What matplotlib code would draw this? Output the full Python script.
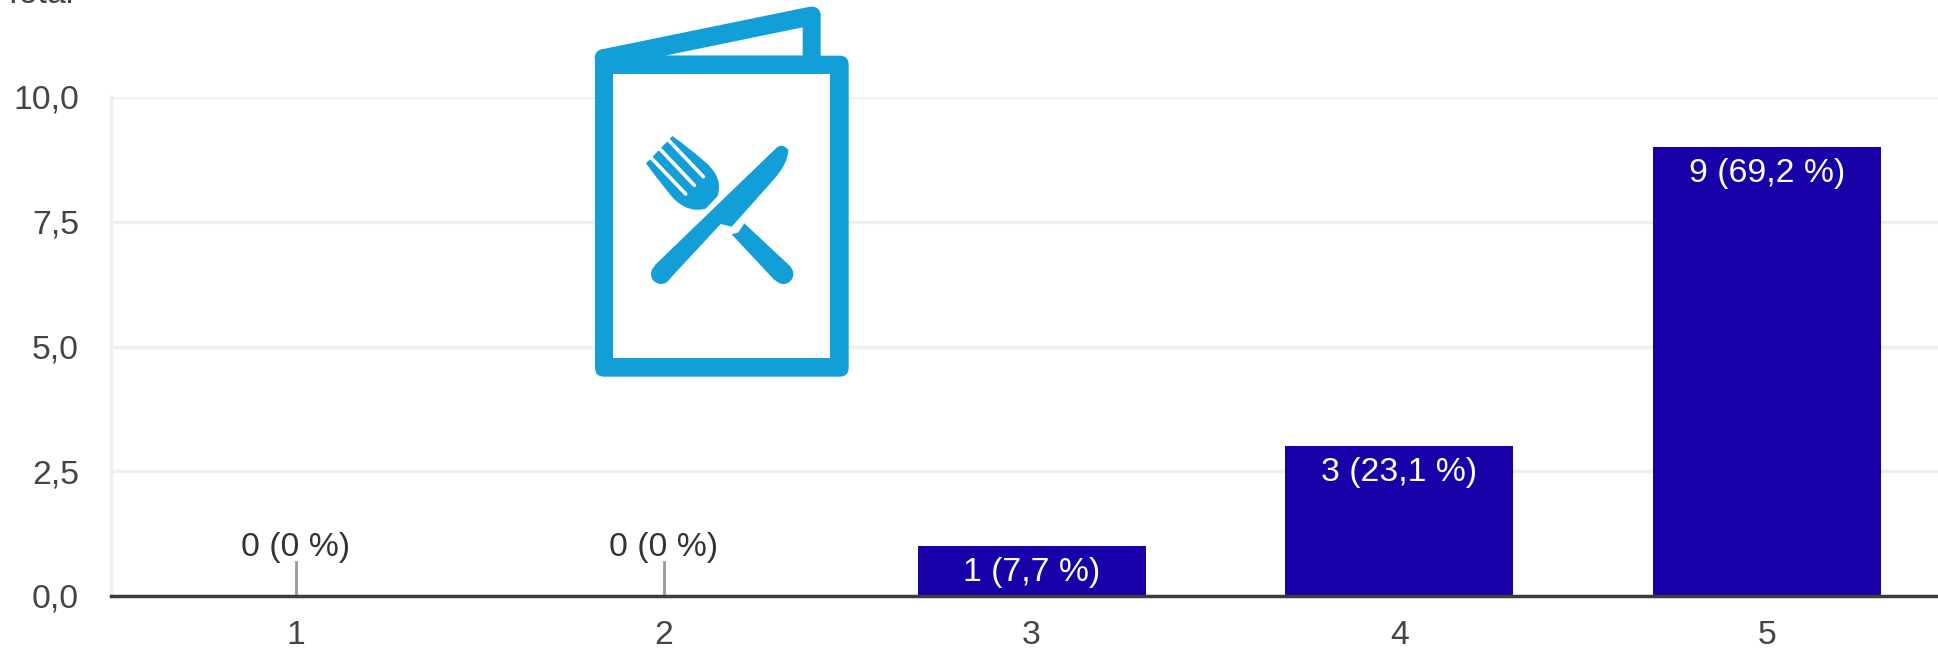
import numpy as np
import matplotlib
matplotlib.use("Agg")
import matplotlib.pyplot as plt
from matplotlib.path import Path
from matplotlib.patches import PathPatch, FancyBboxPatch, Circle, Polygon

plt.rcParams["font.family"] = ["Liberation Sans", "DejaVu Sans"]

categories = ["1", "2", "3", "4", "5"]
counts = [0, 0, 1, 3, 9]
pct_labels = ["0 (0 %)", "0 (0 %)", "1 (7,7 %)", "3 (23,1 %)", "9 (69,2 %)"]
y_ticks = [0, 2.5, 5, 7.5, 10]
y_labels = ["0,0", "2,5", "5,0", "7,5", "10,0"]

W, H = 1938, 649
BLUE = "#129fd8"
BAR = "#1800a8"
TXT = "#444444"
FS = 24.3

fig = plt.figure(figsize=(W / 100, H / 100), dpi=100)
ax = fig.add_axes([111 / W, 1 - 596 / H, (W - 111) / W, 499 / H])

x = np.arange(5)
step = 367.8
ax.set_xlim(-(296 - 111) / step, (W - 296) / step)
ax.set_ylim(0, 10)

ax.bar(x, counts, width=0.62, color=BAR, zorder=3)
ax.set_yticks(y_ticks)
ax.set_yticklabels(y_labels)
ax.set_xticks(x)
ax.set_xticklabels(categories)
ax.tick_params(axis="both", length=0, labelsize=FS, labelcolor=TXT)
ax.tick_params(axis="x", pad=17)
ax.tick_params(axis="y", pad=23)
ax.grid(axis="y", color="#efefef", linewidth=2.5, zorder=1)
ax.set_axisbelow(True)
for s in ["top", "right"]:
    ax.spines[s].set_visible(False)
ax.spines["left"].set_color("#efefef")
ax.spines["left"].set_linewidth(2.5)
ax.spines["bottom"].set_color("#3c3c3c")
ax.spines["bottom"].set_linewidth(2.5)
ax.spines["bottom"].set_zorder(5)

for i, (c, lab) in enumerate(zip(counts, pct_labels)):
    if c == 0:
        ax.plot([i, i], [0, 0.68], color="#999999", linewidth=2, zorder=2)
        ax.annotate(lab, (i, 0.68), xytext=(0, -1), textcoords="offset points",
                    ha="center", va="bottom", fontsize=FS, color="#333333")
    else:
        ax.annotate(lab, (i, c), xytext=(0, -8), textcoords="offset points",
                    ha="center", va="top", fontsize=FS, color="white", zorder=6)

# clipped title left over at the top edge
fig.text(2 / W, 1 - 3 / H, "Total", fontsize=FS, color=TXT, va="baseline")

# menu icon, drawn in pixel coords of the reference
ov = fig.add_axes([0, 0, 1, 1], facecolor="none")
ov.set_xlim(0, W)
ov.set_ylim(H, 0)
ov.axis("off")


def zp(pts):
    return [(560 + a / 3, b / 3) for a, b in pts]


def shape(pts, color=BLUE):
    ov.add_patch(Polygon(zp(pts), closed=True, facecolor=color, edgecolor="none", zorder=10))


def smooth(pts, color=BLUE):
    # closed path through quadratic curves, every second point is a control point
    p = zp(pts)
    verts = [p[0]]
    codes = [Path.MOVETO]
    for i in range(1, len(p) - 1, 2):
        verts += [p[i], p[i + 1]]
        codes += [Path.CURVE3, Path.CURVE3]
    verts.append(p[0])
    codes.append(Path.CLOSEPOLY)
    ov.add_patch(PathPatch(Path(verts, codes), facecolor=color, edgecolor="none", zorder=11))


def round_rect(a0, b0, a1, b1, r, color):
    (x0, y0), (x1, y1) = zp([(a0, b0), (a1, b1)])
    ov.add_patch(FancyBboxPatch((x0 + r, y0 + r), x1 - x0 - 2 * r, y1 - y0 - 2 * r,
                                boxstyle=f"round,pad={r}", facecolor=color, edgecolor="none", zorder=10))


def dot(a, b, r):
    ov.add_patch(Circle(zp([(a, b)])[0], r / 3, facecolor=BLUE, edgecolor="none", zorder=11))


# back flap
shape([(130, 147), (750, 20), (782, 45), (782, 200), (105, 200), (105, 172)])
dot(130, 173, 26)
dot(757, 45, 25)
shape([(315, 167), (728, 82), (728, 167)], "white")
# cover
round_rect(105, 167, 866, 1130, 9, BLUE)
shape([(160, 222), (811, 222), (811, 1074), (160, 1074)], "white")

# knife
smooth([(283, 797), (466, 620), (650, 443), (668, 428), (685, 450), (685, 490), (640, 540),
        (578, 610), (515, 680), (498, 676), (482, 672), (405, 755), (328, 838),
        (305, 818), (283, 797)])
dot(303, 822, 30)
# fork handle
shape([(553, 670), (692, 800), (645, 842), (515, 703), (535, 697)])
dot(670, 822, 30)
# fork head
smooth([(337, 408), (390, 445), (440, 490), (490, 535), (473, 588), (455, 607), (437, 626),
        (385, 640), (340, 595), (298, 545), (258, 490), (298, 450), (337, 408)])
for a0, b0, a1, b1 in [(325, 420, 430, 530), (298, 445, 403, 556), (272, 472, 377, 582)]:
    ov.plot(np.array([a0, a1]) / 3 + 560, np.array([b0, b1]) / 3, color="white",
            linewidth=2.6, solid_capstyle="round", zorder=12)

fig.savefig("out.png", dpi=100, facecolor="white")
plt.close(fig)
